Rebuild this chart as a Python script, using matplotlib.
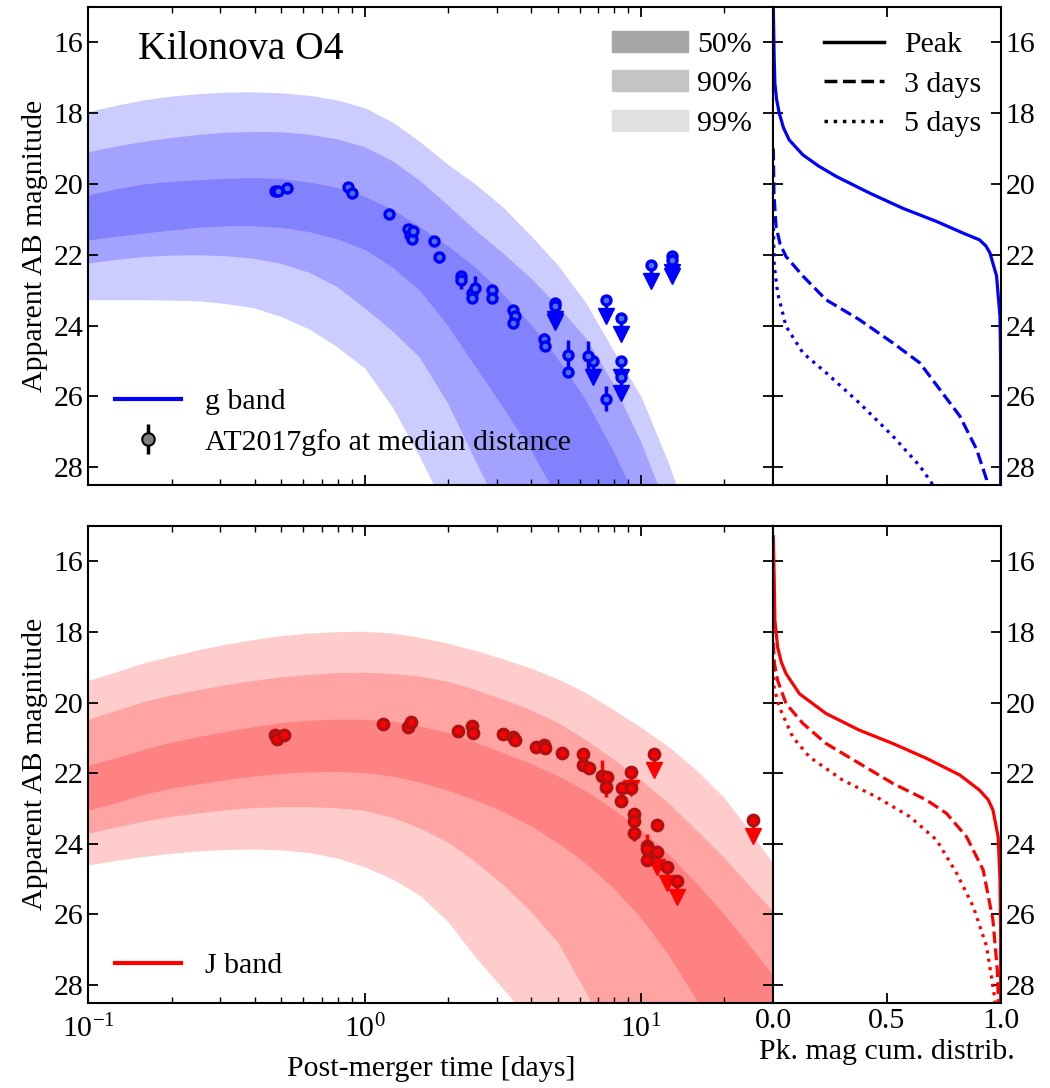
import numpy as np
import matplotlib
matplotlib.use("Agg")
import matplotlib.pyplot as plt
from matplotlib.lines import Line2D
from matplotlib.patches import Patch

plt.rcParams['font.family'] = 'serif'
plt.rcParams['font.serif'] = ['Liberation Serif', 'DejaVu Serif']
plt.rcParams['mathtext.fontset'] = 'stix'
FS = 21.5

# time grid (days) of the band envelopes
t_grid = [0.1, 0.126, 0.158, 0.2, 0.251, 0.316, 0.398, 0.501, 0.631, 0.794,
          1.0, 1.26, 1.58, 2.0, 2.51, 3.16, 3.98, 5.01, 6.31, 7.94,
          10.0, 12.6, 15.8, 20.0, 25.1, 31.6]

# g band envelopes (apparent mag)
g_u99 = [17.96, 17.78, 17.63, 17.52, 17.45, 17.41, 17.40, 17.43, 17.50, 17.63,
         17.85, 18.25, 18.8, 19.45, 20.0, 20.65, 21.45, 22.3, 23.35, 24.7,
         26.0, 27.9, 30.1, 32.3, 34.6, 37.0]
g_u90 = [19.09, 18.93, 18.80, 18.69, 18.60, 18.54, 18.52, 18.53, 18.60, 18.73,
         18.95, 19.35, 19.9, 20.6, 21.3, 21.95, 22.65, 23.45, 24.35, 25.65,
         27.3, 29.3, 31.5, 33.7, 36.0, 38.0]
g_u50 = [20.31, 20.14, 20.00, 19.93, 19.88, 19.84, 19.82, 19.85, 19.95, 20.10,
         20.35, 20.72, 21.2, 21.75, 22.35, 23.1, 23.95, 24.95, 26.1, 27.55,
         29.2, 31.0, 33.0, 35.0, 37.5, 40.0]
g_l50 = [21.58, 21.48, 21.39, 21.30, 21.22, 21.18, 21.18, 21.23, 21.35, 21.55,
         21.85, 22.35, 23.0, 24.0, 25.15, 26.3, 27.5, 28.9, 30.5, 32.2,
         34.0, 36.0, 38.0, 40.5, 43.0, 45.0]
g_l90 = [22.23, 22.13, 22.05, 22.01, 22.00, 22.03, 22.10, 22.25, 22.5, 22.9,
         23.5, 24.15, 24.9, 26.2, 27.8, 29.4, 31.0, 32.5, 34.0, 35.5,
         37.0, 39.0, 41.0, 43.0, 45.0, 46.0]
g_l99 = [23.27, 23.27, 23.27, 23.28, 23.30, 23.38, 23.5, 23.75, 24.1, 24.6,
         25.2, 26.3, 27.7, 29.3, 31.0, 32.5, 34.0, 35.5, 37.0, 38.5,
         40.0, 41.5, 43.0, 44.5, 46.0, 47.0]

# J band envelopes
J_u99 = [19.37, 19.13, 18.88, 18.68, 18.50, 18.34, 18.21, 18.10, 18.03, 17.99,
         17.98, 18.03, 18.15, 18.32, 18.52, 18.76, 19.02, 19.33, 19.72, 20.2,
         20.7, 21.25, 21.9, 22.7, 23.7, 24.8]
J_u90 = [20.47, 20.22, 19.97, 19.78, 19.63, 19.49, 19.37, 19.27, 19.2, 19.15,
         19.14, 19.17, 19.25, 19.4, 19.63, 19.9, 20.2, 20.57, 21.05, 21.6,
         22.2, 22.85, 23.6, 24.4, 25.25, 26.1]
J_u50 = [21.77, 21.56, 21.33, 21.12, 20.96, 20.81, 20.68, 20.57, 20.5, 20.47,
         20.47, 20.53, 20.66, 20.85, 21.12, 21.42, 21.72, 22.08, 22.5, 23.02,
         23.6, 24.3, 25.1, 26.0, 26.95, 27.95]
J_l50 = [23.04, 22.84, 22.60, 22.42, 22.3, 22.18, 22.08, 22.0, 21.96, 21.95,
         21.98, 22.08, 22.25, 22.48, 22.75, 23.08, 23.48, 23.98, 24.55, 25.25,
         26.1, 27.15, 28.4, 29.8, 31.3, 33.0]
J_l90 = [23.7, 23.52, 23.36, 23.22, 23.12, 23.03, 22.97, 22.95, 22.95, 22.98,
         23.05, 23.25, 23.55, 23.95, 24.5, 25.15, 25.9, 26.8, 28.2, 29.7,
         31.3, 33.0, 34.8, 36.6, 38.5, 40.5]
J_l99 = [24.6, 24.47, 24.36, 24.27, 24.2, 24.16, 24.15, 24.17, 24.25, 24.4,
         24.65, 25.0, 25.45, 26.2, 27.2, 28.1, 29.0, 30.1, 31.3, 32.6,
         34.0, 35.5, 37.0, 38.5, 40.0, 41.5]

# AT2017gfo at median distance, g band
g_t = [0.473, 0.487, 0.525, 0.871, 0.897, 1.22, 1.44, 1.46, 1.48, 1.50,
       1.78, 1.85, 2.24, 2.24, 2.44, 2.51, 2.44, 2.88, 2.88, 3.45,
       3.49, 3.45, 4.45, 4.5, 5.44, 5.44, 6.43, 7.45]
g_mag = [20.2, 20.19, 20.12, 20.08, 20.26, 20.85, 21.26, 21.45, 21.55, 21.32,
         21.6, 22.07, 22.6, 22.72, 23.08, 22.94, 23.22, 22.99, 23.22, 23.55,
         23.72, 23.92, 24.37, 24.58, 24.82, 25.3, 24.86, 26.06]
g_err = [0.05, 0.05, 0.05, 0.05, 0.05, 0.05, 0.08, 0.08, 0.08, 0.08,
         0.05, 0.15, 0.1, 0.25, 0.1, 0.35, 0.1, 0.08, 0.08, 0.1,
         0.1, 0.1, 0.15, 0.1, 0.42, 0.1, 0.42, 0.35]
g_ul_t = [4.88, 4.88, 6.7, 7.45, 8.45, 8.45, 8.45, 10.9, 12.9, 12.9]
g_ul_mag = [23.35, 23.45, 24.99, 23.29, 23.78, 24.99, 25.44, 22.3, 22.03, 22.14]

# AT2017gfo at median distance, J band
J_t = [0.473, 0.48, 0.51, 1.167, 1.44, 1.47, 2.18, 2.44, 2.47, 3.17,
       3.44, 3.49, 4.16, 4.45, 4.49, 5.18, 6.17, 6.17, 6.48, 7.2,
       7.5, 7.45, 8.5, 8.45, 9.18, 9.44, 9.44, 9.44, 11.46, 10.47,
       10.47, 10.47]
J_mag = [20.92, 21.02, 20.92, 20.61, 20.69, 20.55, 20.8, 20.66, 20.85, 20.9,
         20.97, 21.05, 21.25, 21.2, 21.3, 21.42, 21.47, 21.77, 21.86, 22.08,
         22.12, 22.38, 22.41, 22.78, 22.43, 23.16, 23.35, 23.68, 23.47, 24.06,
         24.15, 24.45]
J_err = [0.05, 0.05, 0.05, 0.05, 0.05, 0.05, 0.05, 0.05, 0.05, 0.05,
         0.05, 0.05, 0.05, 0.05, 0.05, 0.05, 0.05, 0.05, 0.05, 0.45,
         0.05, 0.3, 0.05, 0.1, 0.05, 0.05, 0.05, 0.25, 0.05, 0.35,
         0.05, 0.1]
J_ul_t = [9.18, 11.14, 11.46, 12.45, 13.46, 25.4]
J_ul_mag = [21.98, 21.47, 24.22, 24.66, 25.05, 23.33]

# peak-magnitude cumulative distributions
g_peak_cdf = [0.0, 0.004, 0.007, 0.014, 0.026, 0.045, 0.07, 0.13, 0.2, 0.277,
              0.424, 0.57, 0.718, 0.835, 0.907, 0.935, 0.953, 0.982, 0.997, 1.0, 1.0]
g_peak_mag = [15.0, 16.5, 17.16, 17.6, 18.0, 18.42, 18.76, 19.18, 19.5, 19.79,
              20.26, 20.69, 21.06, 21.39, 21.58, 21.75, 21.95, 22.6, 23.74, 25.0, 29.0]
g_3d_cdf = [0.0, 0.003, 0.012, 0.03, 0.056, 0.13, 0.232, 0.378, 0.526, 0.644,
            0.732, 0.82, 0.894, 0.938, 0.95]
g_3d_mag = [19.0, 20.3, 21.2, 21.7, 22.05, 22.6, 23.27, 23.83, 24.49, 25.05,
            25.8, 26.55, 27.49, 28.34, 28.8]
g_5d_cdf = [0.0, 0.004, 0.019, 0.056, 0.13, 0.232, 0.378, 0.526, 0.644, 0.695, 0.72]
g_5d_mag = [21.0, 22.3, 23.08, 24.02, 24.77, 25.33, 26.18, 27.12, 27.96, 28.43, 28.7]

J_peak_cdf = [0.0, 0.004, 0.007, 0.019, 0.035, 0.056, 0.115, 0.232, 0.378, 0.526,
              0.674, 0.82, 0.907, 0.945, 0.966, 0.989, 0.997, 1.0, 1.0]
J_peak_mag = [15.3, 16.5, 17.68, 18.43, 18.85, 19.18, 19.75, 20.31, 20.78, 21.16,
              21.58, 22.05, 22.48, 22.75, 23.04, 23.8, 25.0, 26.5, 29.0]
J_3d_cdf = [0.0, 0.005, 0.019, 0.056, 0.13, 0.232, 0.378, 0.526, 0.674, 0.762,
            0.85, 0.923, 0.966, 0.985, 0.99, 0.992]
J_3d_mag = [18.3, 18.9, 19.37, 20.03, 20.59, 21.16, 21.72, 22.29, 22.76, 23.14,
            23.8, 24.74, 26.15, 27.56, 28.4, 29.0]
J_5d_cdf = [0.0, 0.004, 0.026, 0.085, 0.159, 0.306, 0.453, 0.6, 0.718, 0.806,
            0.879, 0.938, 0.966, 0.975, 0.98]
J_5d_mag = [18.8, 19.6, 20.12, 20.97, 21.54, 22.2, 22.67, 23.23, 23.89, 24.83,
            25.77, 26.9, 28.03, 28.45, 29.0]

ARROW = 0.45  # length of upper-limit arrows in mag


def style(ax):
    ax.tick_params(which='both', direction='in', top=True, right=True, labelsize=FS)
    ax.tick_params(which='major', length=7, width=1.3)
    ax.tick_params(which='minor', length=4, width=1.0)
    for s in ax.spines.values():
        s.set_linewidth(1.5)


def draw_main(ax, col, bands, t, m, e, ul_t, ul_m, mfc, mec, ms):
    u99, u90, u50, l50, l90, l99 = bands
    ax.fill_between(t_grid, u99, l99, color=col, alpha=0.2, lw=0)
    ax.fill_between(t_grid, u90, l90, color=col, alpha=0.2, lw=0)
    ax.fill_between(t_grid, u50, l50, color=col, alpha=0.2, lw=0)
    ul_t = np.array(ul_t)
    ul_m = np.array(ul_m)
    ax.vlines(ul_t, ul_m, ul_m + ARROW, color=col, lw=2.5, zorder=3)
    ax.plot(ul_t, ul_m + ARROW, 'v', color=col, ms=12, zorder=3)
    ax.plot(ul_t, ul_m, 'o', ms=ms, mfc=mfc, mec=mec, mew=2.4, zorder=4)
    ax.errorbar(t, m, yerr=e, fmt='o', ms=ms, mfc=mfc, mec=mec, mew=2.4,
                ecolor=col, elinewidth=2.5, capsize=0, zorder=4)
    ax.set_xscale('log')
    ax.set_xlim(0.1, 30.1)
    ax.set_ylim(28.5, 15.0)
    ax.set_yticks([16, 18, 20, 22, 24, 26, 28])
    ax.set_ylabel('Apparent AB magnitude', fontsize=FS)
    style(ax)


def draw_side(ax, col, peak, d3, d5):
    ax.plot(peak[0], peak[1], color=col, lw=2.3, ls='-')
    ax.plot(d3[0], d3[1], color=col, lw=2.3, ls='--')
    ax.plot(d5[0], d5[1], color=col, lw=2.3, ls=':')
    ax.set_xlim(0, 1)
    ax.set_xticks([0.0, 0.5, 1.0])
    ax.set_xticklabels(['0.0', '0.5', '1.0'])
    ax.set_ylim(28.5, 15.0)
    ax.set_yticks([16, 18, 20, 22, 24, 26, 28])
    style(ax)
    ax.tick_params(labelleft=False, labelright=True)


fig = plt.figure(figsize=(10.5, 10.88), dpi=100)
gs1 = fig.add_gridspec(1, 2, left=0.0841, right=0.953, top=0.9938, bottom=0.5542,
                       width_ratios=[3.013, 1], wspace=0)
gs2 = fig.add_gridspec(1, 2, left=0.0841, right=0.953, top=0.5165, bottom=0.0784,
                       width_ratios=[3.013, 1], wspace=0)
ax1 = fig.add_subplot(gs1[0])
ax2 = fig.add_subplot(gs1[1])
ax3 = fig.add_subplot(gs2[0])
ax4 = fig.add_subplot(gs2[1])

draw_main(ax1, 'blue', (g_u99, g_u90, g_u50, g_l50, g_l90, g_l99),
          g_t, g_mag, g_err, g_ul_t, g_ul_mag, '#4a72d8', 'blue', 6.5)
draw_main(ax3, 'red', (J_u99, J_u90, J_u50, J_l50, J_l90, J_l99),
          J_t, J_mag, J_err, J_ul_t, J_ul_mag, 'red', '#b01010', 7.5)
ax1.tick_params(labelbottom=False)
ax3.tick_params(axis='x', which='major', pad=9)
ax3.set_xlabel('Post-merger time [days]', fontsize=FS, labelpad=9)

draw_side(ax2, 'blue', (g_peak_cdf, g_peak_mag), (g_3d_cdf, g_3d_mag), (g_5d_cdf, g_5d_mag))
draw_side(ax4, 'red', (J_peak_cdf, J_peak_mag), (J_3d_cdf, J_3d_mag), (J_5d_cdf, J_5d_mag))
ax2.tick_params(labelbottom=False)
ax4.set_xlabel('Pk. mag cum. distrib.', fontsize=FS)

ax1.text(0.072, 0.95, 'Kilonova O4', transform=ax1.transAxes, fontsize=28.5, va='top')

# legends
gfo = ax1.errorbar([], [], yerr=[], fmt='o', ms=9, mfc='gray', mec='k', mew=1.5,
                   ecolor='k', elinewidth=2.5)
leg1 = ax1.legend([Line2D([], [], color='blue', lw=3), gfo],
                  ['g band', 'AT2017gfo at median distance'],
                  loc='lower left', bbox_to_anchor=(0.0, 0.005), frameon=False,
                  fontsize=FS, handlelength=2.2, labelspacing=0.45)
ax1.add_artist(leg1)
ax1.legend([Patch(color='#a6a6a6'), Patch(color='#c4c4c4'), Patch(color='#e0e0e0')],
           ['50%', '90%', '99%'], loc='upper right', bbox_to_anchor=(1.008, 1.006),
           frameon=False, fontsize=FS, handlelength=2.55, handleheight=0.7,
           handletextpad=0.3, labelspacing=0.42)
ax3.legend([Line2D([], [], color='red', lw=3)], ['J band'], loc='lower left',
           bbox_to_anchor=(0.0, -0.007), frameon=False, fontsize=FS, handlelength=2.2)
ax2.legend([Line2D([], [], color='k', lw=2.5, ls=s) for s in ['-', '--', ':']],
           ['Peak', '3 days', '5 days'], loc='upper right', bbox_to_anchor=(1.035, 1.005),
           frameon=False, fontsize=FS, handlelength=2.0, handletextpad=0.7,
           labelspacing=0.42)

fig.savefig('out.png', dpi=100)
